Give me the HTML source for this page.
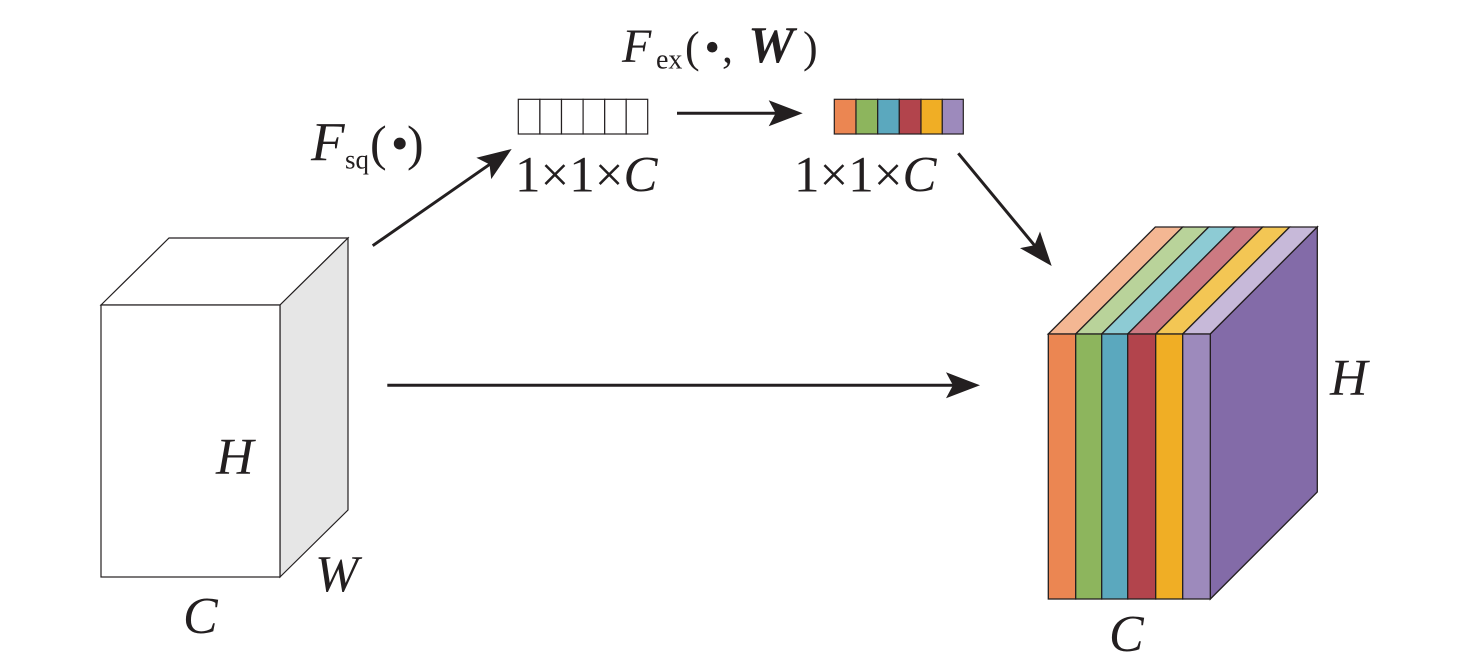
<!DOCTYPE html>
<html>
<head>
<meta charset="utf-8">
<style>
  html, body { margin: 0; padding: 0; background: #ffffff; }
  svg { display: block; }
  text { font-family: "Liberation Serif", "Times New Roman", serif; fill: #231F20; }
  .it { font-style: italic; }
</style>
</head>
<body>
<svg width="1476" height="669" viewBox="0 0 1476 669" xmlns="http://www.w3.org/2000/svg">
  <rect x="0" y="0" width="1476" height="669" fill="#ffffff"/>

  <!-- Left cube -->
  <g stroke="#231F20" stroke-width="1.2" stroke-linejoin="miter">
    <polygon points="101,305 169,238 348,238 280,305" fill="#ffffff"/>
    <polygon points="280,305 348,238 348,510 280,577" fill="#E6E6E6"/>
    <rect x="101" y="305" width="179" height="272" fill="#ffffff"/>
  </g>
  <text class="it" x="216" y="474" font-size="52">H</text>
  <text class="it" x="315" y="591" font-size="52">W</text>
  <text class="it" x="183" y="633" font-size="52">C</text>

  <!-- Right block -->
  <g stroke="#231F20" stroke-width="1.3" stroke-linejoin="miter">
    <polygon points="1048.3,334 1155.3,227 1182.7,227 1075.7,334" fill="#F4B793"/>
    <polygon points="1075.7,334 1182.7,227 1208.7,227 1101.7,334" fill="#B9D39A"/>
    <polygon points="1101.7,334 1208.7,227 1234.7,227 1127.7,334" fill="#8DCBD4"/>
    <polygon points="1127.7,334 1234.7,227 1262.7,227 1155.7,334" fill="#CC7A82"/>
    <polygon points="1155.7,334 1262.7,227 1289.7,227 1182.7,334" fill="#F3C654"/>
    <polygon points="1182.7,334 1289.7,227 1317.3,227 1210.3,334" fill="#C7B9D9"/>
    <polygon points="1210.3,334 1317.3,227 1317.3,492 1210.3,599" fill="#836BA8"/>
    <rect x="1048.3" y="334" width="27.4" height="265" fill="#EB8652"/>
    <rect x="1075.7" y="334" width="26" height="265" fill="#8DB55D"/>
    <rect x="1101.7" y="334" width="26" height="265" fill="#5BA8BE"/>
    <rect x="1127.7" y="334" width="28" height="265" fill="#B2444C"/>
    <rect x="1155.7" y="334" width="27" height="265" fill="#F0AE25"/>
    <rect x="1182.7" y="334" width="27.6" height="265" fill="#9D8ABC"/>
  </g>
  <text class="it" x="1330" y="395" font-size="52">H</text>
  <text class="it" x="1109" y="651" font-size="52">C</text>

  <!-- Empty vector -->
  <g stroke="#231F20" stroke-width="1.2" fill="#ffffff">
    <rect x="518.3" y="99.3" width="21.6" height="34.7"/>
    <rect x="539.9" y="99.3" width="21.6" height="34.7"/>
    <rect x="561.5" y="99.3" width="21.6" height="34.7"/>
    <rect x="583.1" y="99.3" width="21.6" height="34.7"/>
    <rect x="604.7" y="99.3" width="21.5" height="34.7"/>
    <rect x="626.2" y="99.3" width="21.5" height="34.7"/>
  </g>

  <!-- Colored vector -->
  <g stroke="#231F20" stroke-width="1.2">
    <rect x="834.3" y="99.3" width="21.7" height="34.7" fill="#EB8652"/>
    <rect x="856" y="99.3" width="21.7" height="34.7" fill="#8DB55D"/>
    <rect x="877.7" y="99.3" width="21.6" height="34.7" fill="#5BA8BE"/>
    <rect x="899.3" y="99.3" width="21.7" height="34.7" fill="#B2444C"/>
    <rect x="921" y="99.3" width="21.3" height="34.7" fill="#F0AE25"/>
    <rect x="942.3" y="99.3" width="21" height="34.7" fill="#9D8ABC"/>
  </g>

  <!-- 1x1xC labels -->
  <text x="515" y="191.5" font-size="51">1×1×<tspan class="it">C</tspan></text>
  <text x="794" y="191.5" font-size="51">1×1×<tspan class="it">C</tspan></text>

  <!-- F_sq(•) -->
  <text class="it" x="311" y="160" font-size="55">F</text>
  <text x="345" y="168.5" font-size="27">sq</text>
  <text x="370" y="160" font-size="50">(</text>
  <text x="391" y="160" font-size="50">•</text>
  <text x="407" y="160" font-size="50">)</text>

  <!-- F_ex(•, W) -->
  <text class="it" x="622" y="62" font-size="48">F</text>
  <text x="656" y="68.7" font-size="28">ex</text>
  <text x="685" y="62" font-size="44">(</text>
  <text x="704.5" y="62" font-size="44">•</text>
  <text x="722" y="62" font-size="44">,</text>
  <text x="748" y="62" font-size="52" font-weight="bold" font-style="italic">W</text>
  <text x="803" y="62" font-size="44">)</text>

  <!-- Arrows -->
  <g stroke="#231F20" stroke-width="3" fill="none">
    <line x1="372.7" y1="245.7" x2="491.2" y2="163.3"/>
    <line x1="677" y1="113.3" x2="778" y2="113.3"/>
    <line x1="958.3" y1="153.3" x2="1035.7" y2="246.8"/>
    <line x1="387.3" y1="385.3" x2="955" y2="385.3"/>
  </g>
  <g fill="#231F20">
    <polygon transform="translate(511.7,149) rotate(-34.83)" points="0,0 -34,-13 -27,0 -34,13"/>
    <polygon transform="translate(802.7,113.3)" points="0,0 -34,-13 -27,0 -34,13"/>
    <polygon transform="translate(1051.7,266) rotate(50.35)" points="0,0 -34,-13 -27,0 -34,13"/>
    <polygon transform="translate(980,385.3)" points="0,0 -34,-13 -27,0 -34,13"/>
  </g>
</svg>
</body>
</html>
